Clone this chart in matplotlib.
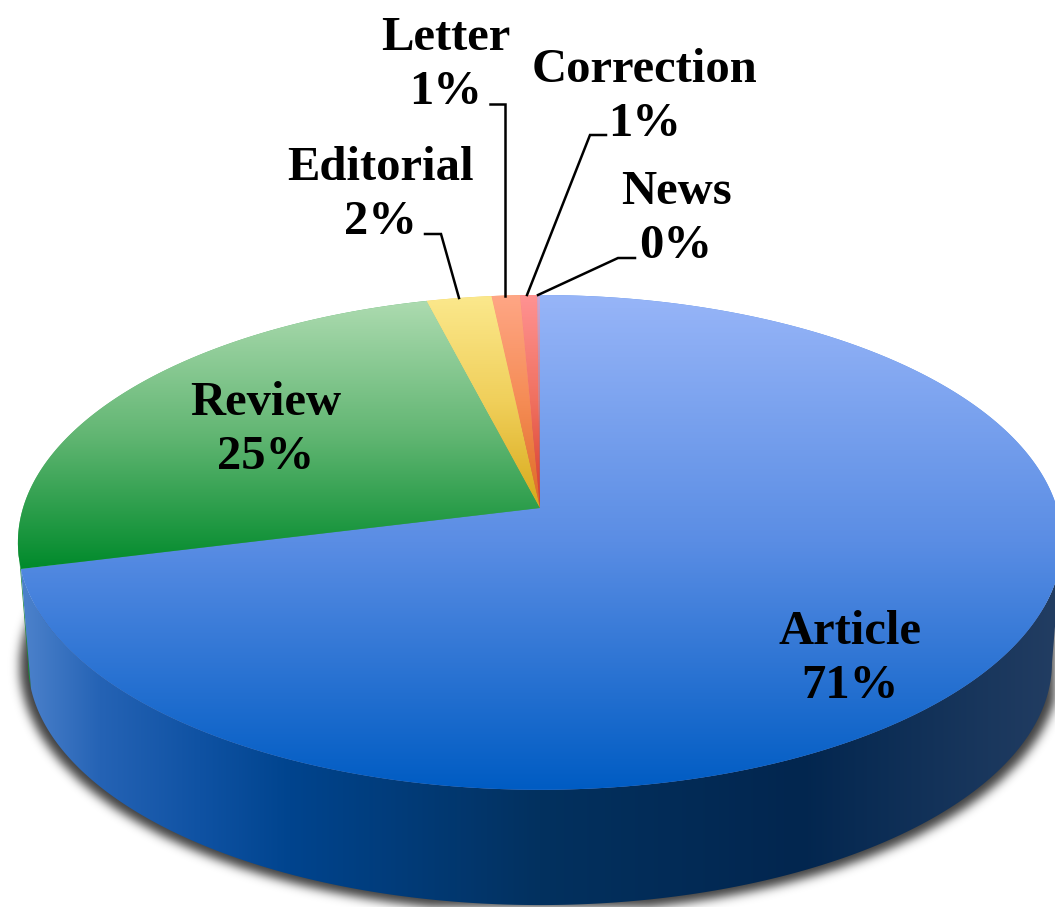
import numpy as np
import matplotlib
matplotlib.use("Agg")
import matplotlib.pyplot as plt
from matplotlib.colors import to_rgb
from matplotlib.patches import Polygon
from matplotlib.path import Path

categories = ["Article", "Review", "Editorial", "Letter", "Correction", "News"]
values = [71.1, 24.9, 2.3, 1.0, 0.6, 0.1]

# gradient stops (top, middle, bottom) of each slice
slice_colors = [
    ["#97B5F8", "#5A8DE4", "#005CC3"],
    ["#ADDBB0", "#62B673", "#008A2B"],
    ["#FBE88C", "#F0CF5A", "#D8A91A"],
    ["#FFA685", "#F58C55", "#DD6A24"],
    ["#FF9292", "#F0705F", "#D63A2A"],
    ["#C8A8D8", "#C08090", "#B04040"],
]

# where the labels go (centre of the two text lines)
label_pos = [(850, 659), (266, 430), (380, 195), (446, 65), (645, 97), (676, 219)]

# leader lines: text end, elbow, pie end
leaders = [
    None,
    None,
    [(425, 234), (441, 234), (459, 298)],
    [(490, 104), (505, 104), (505, 296)],
    [(606, 135), (590, 135), (527, 295)],
    [(635, 258), (618, 258), (538, 295)],
]

W, H = 1055, 907
CX = 540
TOP_CY, BOT_CY = 508, 629
TOP_R, BOT_R = 517, 507
TOP_S, BOT_S = 242.6, 237.7
K = 0.139

# horizontal shading of the blue wall
wall_x = [28, 100, 200, 290, 540, 800, 1055]
wall_c = ["#4A80CA", "#2563B5", "#0F52A3", "#00448E", "#03315F", "#02264F", "#223D62"]


def project(theta, cy, r, s):
    # theta in degrees clockwise from 12 o'clock
    t = np.radians(theta)
    x, y = np.sin(t), np.cos(t)
    w = 1 + K * y
    return np.column_stack([CX + r * x / w, cy - s * y / w])


def top_ring(theta):
    return project(theta, TOP_CY, TOP_R, TOP_S)


def bot_ring(theta):
    return project(theta, BOT_CY, BOT_R, BOT_S)


def ramp(stops, pos):
    cols = np.array([to_rgb(c) for c in stops])
    return np.column_stack([np.interp(pos, np.linspace(0, 1, len(stops)), cols[:, i]) for i in range(3)])


fig = plt.figure(figsize=(W / 100, H / 100), dpi=100)
ax = fig.add_axes([0, 0, 1, 1])
ax.axis("off")

edges = np.concatenate([[0], np.cumsum(values)]) / np.sum(values) * 360

# soft shadow under the pie
gx, gy = np.meshgrid(np.arange(W) + 0.5, np.arange(H) + 0.5)
ring = project(np.linspace(0, 360, 361), BOT_CY + 3, BOT_R * 1.016, BOT_S * 1.016)
mask = Path(ring).contains_points(np.column_stack([gx.ravel(), gy.ravel()])).reshape(H, W).astype(float)
kx = np.arange(-18, 19)
kernel = np.exp(-kx**2 / (2 * 5.0**2))
kernel /= kernel.sum()
mask = np.apply_along_axis(lambda a: np.convolve(a, kernel, mode="same"), 0, mask)
mask = np.apply_along_axis(lambda a: np.convolve(a, kernel, mode="same"), 1, mask)
shadow = np.zeros((H, W, 4))
shadow[..., 3] = mask * 0.75
ax.imshow(shadow, extent=(0, W, H, 0), aspect="auto", zorder=1)

# walls: thin green bit on the far left, then the blue front
th = np.linspace(edges[1], 262, 8)
ax.add_patch(Polygon(np.vstack([top_ring(th), bot_ring(th[::-1])]), fc="#1E8A3A", ec="none", zorder=2))

th = np.linspace(98, edges[1], 300)
wall = Polygon(np.vstack([top_ring(th), bot_ring(th[::-1])]), fc="none", ec="none", zorder=3)
ax.add_patch(wall)
px = np.arange(W) + 0.5
cols = np.column_stack([np.interp(px, wall_x, np.array([to_rgb(c) for c in wall_c])[:, i]) for i in range(3)])
im = ax.imshow(cols[np.newaxis, :, :], extent=(0, W, H, 0), aspect="auto", zorder=3)
im.set_clip_path(wall)

# top face, each slice with its own vertical gradient
for i in range(len(values)):
    th = np.linspace(edges[i], edges[i + 1], max(int(values[i] * 6), 4))
    poly = np.vstack([[[CX, TOP_CY]], top_ring(th)])
    y0, y1 = poly[:, 1].min(), poly[:, 1].max()
    patch = Polygon(poly, fc=slice_colors[i][1], ec="none", lw=0, zorder=4)
    ax.add_patch(patch)
    im = ax.imshow(ramp(slice_colors[i], np.linspace(0, 1, 256))[:, np.newaxis, :],
                   extent=(0, W, y1, y0), aspect="auto", zorder=5)
    im.set_clip_path(patch)

for pts in leaders:
    if pts is None:
        continue
    pts = np.array(pts)
    ax.plot(pts[:, 0], pts[:, 1], color="black", lw=1.8, solid_joinstyle="miter", zorder=6)

for name, v, (lx, ly) in zip(categories, values, label_pos):
    ax.text(lx, ly, f"{name}\n{round(v)}%", ha="center", va="center", family="Liberation Serif",
            weight="bold", fontsize=35, linespacing=1.31, color="black", zorder=7)

ax.set_xlim(0, W)
ax.set_ylim(H, 0)
fig.savefig("out.png", dpi=100, facecolor="white")
